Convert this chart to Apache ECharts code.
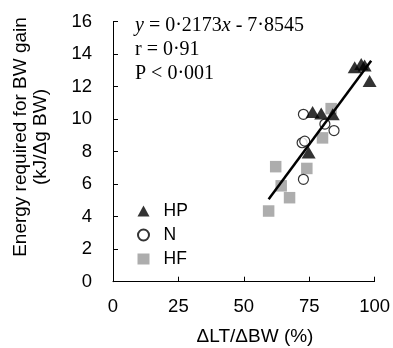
<!DOCTYPE html>
<html>
<head>
<meta charset="utf-8">
<script src="https://cdn.jsdelivr.net/npm/echarts@6/dist/echarts.min.js"></script>
<style>
  html, body { margin: 0; padding: 0; background: #fff; }
  #chart { width: 393px; height: 348px; }
</style>
</head>
<body>
<div id="chart"></div>
<script>
// axis ticks
const xTicks = { min: 0, max: 100, interval: 25 };
const yTicks = { min: 0, max: 16, interval: 2 };

// ΔLT/ΔBW (%) vs energy (kJ/Δg BW), by diet
const hpPoints = [
  [92.4, 13.2], [94.9, 13.4], [96.2, 13.3], [98.1, 12.35],
  [76.3, 10.45], [79.6, 10.35], [84.0, 10.3], [74.8, 7.95]
];
const nPoints = [
  [72.8, 10.3], [81.0, 9.7], [84.5, 9.3],
  [72.3, 8.55], [73.3, 8.65], [72.8, 6.3]
];
const hfPoints = [
  [83.4, 10.65], [80.1, 8.85], [62.2, 7.08], [74.1, 6.97],
  [64.3, 5.9], [67.5, 5.17], [59.5, 4.35]
];

// regression y = 0.2173x - 7.8545 over the range of the fitted line
const slope = 0.2173;
const intercept = -7.8545;
const fitRange = [59.5, 98.7];
const fitLine = fitRange.map((x) => [x, slope * x + intercept]);

const chart = echarts.init(document.getElementById("chart"));
const sans = "Liberation Sans, Arial, sans-serif";
const serif = "Liberation Serif, Times New Roman, serif";

const axisCommon = {
  axisLine: { show: true, lineStyle: { color: "#000", width: 1 } },
  axisTick: { show: true, inside: true, length: 5, lineStyle: { color: "#000" } },
  splitLine: { show: false },
};

chart.setOption({
  animation: false,
  backgroundColor: "#fff",
  grid: { left: 113, right: 18, top: 21.7, bottom: 66.3 },
  xAxis: {
    type: "value",
    ...xTicks,
    ...axisCommon,
    axisLabel: { color: "#000", fontFamily: sans, fontSize: 18.5, margin: 16 },
  },
  yAxis: {
    type: "value",
    ...yTicks,
    ...axisCommon,
    axisLabel: { color: "#000", fontFamily: sans, fontSize: 18.5, margin: 21 },
  },
  legend: {
    orient: "vertical",
    left: 132,
    top: 197,
    itemWidth: 12,
    itemHeight: 11,
    itemGap: 6,
    data: [
      { name: "HP", icon: "triangle" },
      { name: "N", icon: "circle" },
      { name: "HF", icon: "rect" },
    ],
    textStyle: { color: "#000", fontFamily: sans, fontSize: 17.5, padding: [0, 0, 0, 9] },
  },
  graphic: [
    {
      type: "text",
      x: 31,
      y: 137,
      rotation: Math.PI / 2,
      style: {
        text: "Energy required for BW gain\n(kJ/Δg BW)",
        align: "center",
        verticalAlign: "middle",
        lineHeight: 20,
        font: "19px " + sans,
        fill: "#000",
      },
    },
    {
      type: "text",
      x: 255,
      y: 337,
      style: {
        text: "ΔLT/ΔBW (%)",
        align: "center",
        verticalAlign: "middle",
        font: "19px " + sans,
        fill: "#000",
      },
    },
    {
      type: "text",
      x: 135,
      y: 14,
      style: {
        text: "{i|y} = 0·2173{i|x} - 7·8545\nr = 0·91\nP < 0·001",
        fontFamily: serif,
        fontSize: 20,
        lineHeight: 24,
        fill: "#000",
        rich: {
          i: { fontStyle: "italic", fontFamily: serif, fontSize: 20, lineHeight: 24 },
        },
      },
    },
  ],
  series: [
    {
      name: "HF",
      type: "scatter",
      symbol: "rect",
      symbolSize: 11.5,
      itemStyle: { color: "#999999" },
      data: hfPoints,
      z: 2,
    },
    {
      name: "N",
      type: "scatter",
      symbol: "circle",
      symbolSize: 10,
      itemStyle: { color: "#fff", borderColor: "#000", borderWidth: 1.2 },
      data: nPoints,
      z: 3,
    },
    {
      name: "HP",
      type: "scatter",
      symbol: "triangle",
      symbolSize: [14, 12],
      itemStyle: { color: "#000" },
      data: hpPoints,
      z: 4,
    },
    {
      name: "fit",
      type: "line",
      showSymbol: false,
      symbol: "none",
      lineStyle: { color: "#000", width: 2.5 },
      data: fitLine,
      z: 5,
    },
  ],
});
</script>
</body>
</html>
